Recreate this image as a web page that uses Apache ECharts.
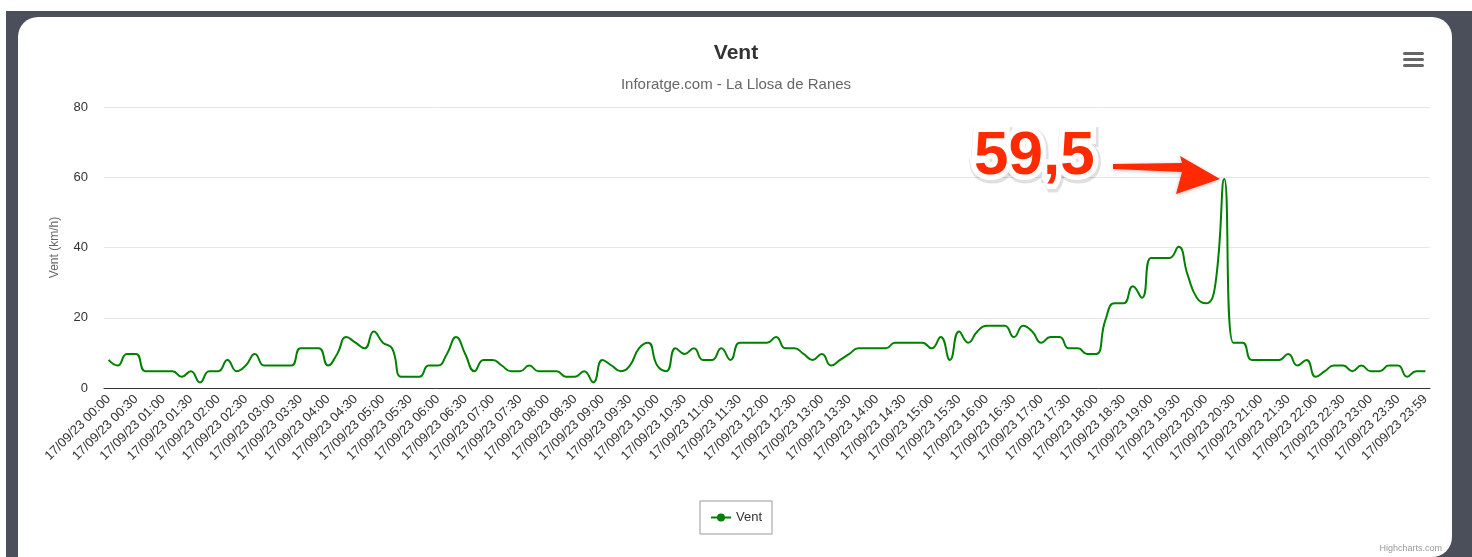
<!DOCTYPE html>
<html>
<head>
<meta charset="utf-8">
<title>Vent</title>
<script src="https://cdn.jsdelivr.net/npm/echarts@6/dist/echarts.min.js"></script>
<style>
    html, body { margin: 0; padding: 0; background: #fff; }
    #frame { position: absolute; left: 6px; top: 11px; width: 1466px; height: 546px; background: #4b4f5a; }
    #card { position: absolute; left: 18px; top: 17px; width: 1434px; height: 540px; background: #fff; border-radius: 20px 20px 20px 0; }
    #ventChart { position: absolute; left: 0; top: 0; width: 1472px; height: 557px; }
</style>
</head>
<body>
<div id="frame"></div>
<div id="card"></div>
<div id="ventChart"></div>
<script>
// dia i estacio
const dayLabel = '17/09/23';
const chartTitle = 'Vent';
const chartSubtitle = 'Inforatge.com - La Llosa de Ranes';
const yTicks = [0, 20, 40, 60, 80];
const peakLabel = '59,5';

// velocitat del vent (km/h), una lectura cada 10 minuts, 00:00 -> 23:59
const ventValues = [
    8.0, 6.4, 9.7, 9.7, 4.8, 4.8, 4.8, 4.8, 3.2, 4.8, 1.6, 4.8,
    4.8, 8.0, 4.8, 6.4, 9.7, 6.4, 6.4, 6.4, 6.4, 11.3, 11.3, 11.3,
    6.4, 9.7, 14.5, 12.9, 11.3, 16.1, 12.9, 11.3, 3.2, 3.2, 3.2, 6.4,
    6.4, 9.7, 14.5, 9.7, 4.8, 8.0, 8.0, 6.4, 4.8, 4.8, 6.4, 4.8,
    4.8, 4.8, 3.2, 3.2, 4.8, 1.6, 8.0, 6.4, 4.8, 6.4, 11.3, 12.9,
    6.4, 4.8, 11.3, 9.7, 11.3, 8.0, 8.0, 11.3, 8.0, 12.9, 12.9, 12.9,
    12.9, 14.5, 11.3, 11.3, 9.7, 8.0, 9.7, 6.4, 8.0, 9.7, 11.3, 11.3,
    11.3, 11.3, 12.9, 12.9, 12.9, 12.9, 11.3, 14.5, 8.0, 16.1, 12.9, 16.1,
    17.7, 17.7, 17.7, 14.5, 17.7, 16.1, 12.9, 14.5, 14.5, 11.3, 11.3, 9.7,
    9.7, 19.3, 24.1, 24.1, 29.0, 25.7, 37.0, 37.0, 37.0, 40.2, 32.2, 25.7,
    24.1, 29.0, 59.5, 12.9, 12.9, 8.0, 8.0, 8.0, 8.0, 9.7, 6.4, 8.0,
    3.2, 4.8, 6.4, 6.4, 4.8, 6.4, 4.8, 4.8, 6.4, 6.4, 3.2, 4.8,
    4.8
];

// etiquetes horaries (cada 10 minuts, l'ultima es 23:59)
const timeLabels = [];
for (let h = 0; h < 24; h++) {
    for (let m = 0; m < 60; m += 10) {
        timeLabels.push(dayLabel + ' ' + String(h).padStart(2, '0') + ':' + String(m).padStart(2, '0'));
    }
}
timeLabels.push(dayLabel + ' 23:59');

const font = '"Liberation Sans", Arial, Helvetica, sans-serif';
const chart = echarts.init(document.getElementById('ventChart'));

var option = {
    animation: false,
    textStyle: { fontFamily: font },
    title: [
        {
            text: chartTitle,
            left: 'center',
            top: 38,
            textStyle: { fontSize: 21, fontWeight: 'bold', color: '#333', fontFamily: font }
        },
        {
            text: chartSubtitle,
            left: 'center',
            top: 72,
            textStyle: { fontSize: 15, fontWeight: 'normal', color: '#666', fontFamily: font }
        }
    ],
    grid: {
        left: 104,
        right: 42,
        top: 107,
        bottom: 169
    },
    legend: {
        data: [chartTitle],
        left: 'center',
        top: 501,
        padding: [10, 10],
        borderColor: '#999',
        borderWidth: 1,
        borderRadius: 0,
        itemWidth: 20,
        itemHeight: 10,
        itemGap: 5,
        textStyle: { fontSize: 13, color: '#333', fontFamily: font }
    },
    xAxis: {
        type: 'category',
        data: timeLabels,
        boundaryGap: true,
        axisLine: { lineStyle: { color: '#333', width: 1 } },
        axisTick: { show: false },
        axisLabel: {
            interval: 2,
            rotate: 45,
            margin: 9,
            fontSize: 13,
            color: '#333',
            fontFamily: font
        },
        splitLine: { show: false }
    },
    yAxis: {
        type: 'value',
        min: yTicks[0],
        max: yTicks[yTicks.length - 1],
        interval: yTicks[1] - yTicks[0],
        name: 'Vent (km/h)',
        nameLocation: 'middle',
        nameGap: 43,
        nameTextStyle: { fontSize: 12, color: '#666', fontFamily: font },
        axisLine: { show: false },
        axisTick: { show: false },
        axisLabel: { margin: 16, fontSize: 13, color: '#333', fontFamily: font },
        splitLine: { lineStyle: { color: '#e6e6e6', width: 1 } }
    },
    series: [
        {
            name: chartTitle,
            type: 'line',
            data: ventValues,
            smooth: 0.5,
            showSymbol: false,
            symbol: 'circle',
            symbolSize: 8,
            itemStyle: { color: '#008000' },
            lineStyle: { color: '#008000', width: 2 }
        }
    ],
    graphic: [
        // menu
        { type: 'rect', shape: { x: 1403, y: 52, width: 21, height: 3, r: 1.5 }, style: { fill: '#666' } },
        { type: 'rect', shape: { x: 1403, y: 58, width: 21, height: 3, r: 1.5 }, style: { fill: '#666' } },
        { type: 'rect', shape: { x: 1403, y: 64, width: 21, height: 3, r: 1.5 }, style: { fill: '#666' } },
        // credit
        {
            type: 'text', right: 30, top: 544,
            style: { text: 'Highcharts.com', fontSize: 9, fill: '#999', fontFamily: font }
        },
        // anotacio del maxim: ombra, vora blanca i text
        {
            type: 'text', x: 975, y: 128, z: 98,
            style: {
                text: peakLabel, fontSize: 62, fontWeight: 'bold', fontFamily: font,
                fill: 'rgba(0,0,0,0.12)', stroke: 'rgba(0,0,0,0.12)', lineWidth: 14
            }
        },
        {
            type: 'text', x: 974, y: 126, z: 99,
            style: {
                text: peakLabel, fontSize: 62, fontWeight: 'bold', fontFamily: font,
                fill: '#fff', stroke: '#fff', lineWidth: 11
            }
        },
        {
            type: 'text', x: 974, y: 126, z: 100,
            style: {
                text: peakLabel, fontSize: 62, fontWeight: 'bold', fontFamily: font,
                fill: '#ff2a00'
            }
        },
        {
            type: 'polygon', z: 100,
            shape: {
                points: [[1113, 164], [1182, 163], [1180, 156], [1220, 179], [1176, 194], [1182, 172], [1113, 169]]
            },
            style: { fill: '#ff2a00', shadowBlur: 4, shadowColor: 'rgba(0,0,0,0.25)', shadowOffsetY: 1 }
        }
    ]
};
option && chart.setOption(option);
</script>
</body>
</html>
